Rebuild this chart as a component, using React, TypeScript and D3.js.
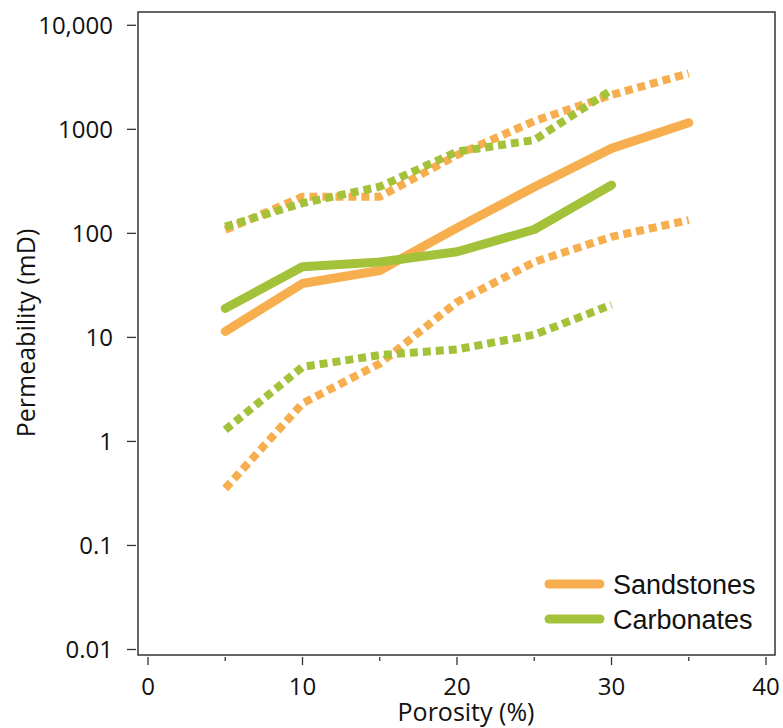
import React from "react";
import * as d3 from "d3";

const porosity = [5, 10, 15, 20, 25, 30, 35];
const porosityCarb = [5, 10, 15, 20, 25, 30];

const sandMid = [11.4, 33, 44, 113, 279, 656, 1156];
const sandHigh = [108, 225, 225, 566, 1200, 2140, 3450];
const sandLow = [0.353, 2.32, 5.6, 21.9, 53, 92.7, 134];

const carbMid = [19, 47.7, 53, 66.5, 109, 291];
const carbHigh = [116, 195, 281, 610, 789, 2390];
const carbLow = [1.29, 5.2, 6.76, 7.67, 10.6, 20.6];

const xTicks = [0, 10, 20, 30, 40];
const xMinorTicks = [5, 15, 25, 35];
const yTicks = [0.01, 0.1, 1, 10, 100, 1000, 10000];
const yTickLabels = ["0.01", "0.1", "1", "10", "100", "1000", "10,000"];

const legendItems = ["Sandstones", "Carbonates"];

const ORANGE = "#F6AE4F";
const GREEN = "#A3C23A";

export default function App() {
  const left = 138, right = 775, top = 12, bottom = 655;
  const x = d3.scaleLinear().domain([0, 40]).range([148, 766]);
  const y = d3.scaleLog().domain([0.01, 10000]).range([649.5, 25.3]);

  const line = d3
    .line<[number, number]>()
    .x((d) => x(d[0]))
    .y((d) => y(d[1]));

  const mk = (xs: number[], ys: number[]) =>
    line(xs.map((v, i) => [v, ys[i]] as [number, number])) || "";

  const series = [
    { d: mk(porosity, sandHigh), c: ORANGE, dash: true },
    { d: mk(porosityCarb, carbHigh), c: GREEN, dash: true },
    { d: mk(porosity, sandLow), c: ORANGE, dash: true },
    { d: mk(porosityCarb, carbLow), c: GREEN, dash: true },
    { d: mk(porosity, sandMid), c: ORANGE, dash: false },
    { d: mk(porosityCarb, carbMid), c: GREEN, dash: false },
  ];

  const font = "'Open Sans', 'Noto Sans', sans-serif";

  return (
    <svg
      width={783}
      height={728}
      style={{ position: "absolute", left: 0, top: 0, background: "#fff" }}
    >
      <rect
        x={left}
        y={top}
        width={right - left}
        height={bottom - top}
        fill="none"
        stroke="#333"
        strokeWidth={1.5}
      />
      {series.map((s, i) => (
        <path
          key={i}
          d={s.d}
          fill="none"
          stroke={s.c}
          strokeWidth={s.dash ? 8 : 9}
          strokeDasharray={s.dash ? "8,5" : undefined}
          strokeLinecap={s.dash ? "butt" : "round"}
          strokeLinejoin="round"
        />
      ))}
      {yTicks.map((t, i) => (
        <g key={t}>
          <line x1={127} x2={136} y1={y(t)} y2={y(t)} stroke="#333" strokeWidth={1.3} />
          <text
            x={113}
            y={y(t)}
            dy="0.35em"
            textAnchor="end"
            fontFamily={font}
            fontSize={24}
            fill="#111"
          >
            {yTickLabels[i]}
          </text>
        </g>
      ))}
      {xTicks.map((t) => (
        <g key={t}>
          <line x1={x(t)} x2={x(t)} y1={657} y2={665} stroke="#333" strokeWidth={1.3} />
          <text
            x={x(t)}
            y={695}
            textAnchor="middle"
            fontFamily={font}
            fontSize={24}
            fill="#111"
          >
            {t}
          </text>
        </g>
      ))}
      {xMinorTicks.map((t) => (
        <line key={t} x1={x(t)} x2={x(t)} y1={657} y2={661} stroke="#333" strokeWidth={1.3} />
      ))}
      <text
        x={466}
        y={721}
        textAnchor="middle"
        fontFamily={font}
        fontSize={25}
        fill="#111"
      >
        Porosity (%)
      </text>
      <text
        transform="translate(35,333) rotate(-90)"
        textAnchor="middle"
        fontFamily={font}
        fontSize={25}
        fill="#111"
      >
        Permeability (mD)
      </text>
      {legendItems.map((name, i) => (
        <g key={name} transform={`translate(0,${584 + i * 35})`}>
          <line
            x1={549}
            x2={600}
            y1={0}
            y2={0}
            stroke={i === 0 ? ORANGE : GREEN}
            strokeWidth={9}
            strokeLinecap="round"
          />
          <text
            x={613}
            y={0}
            dy="0.36em"
            fontFamily="'Liberation Sans', Arial, sans-serif"
            fontSize={27}
            fill="#111"
          >
            {name}
          </text>
        </g>
      ))}
    </svg>
  );
}
